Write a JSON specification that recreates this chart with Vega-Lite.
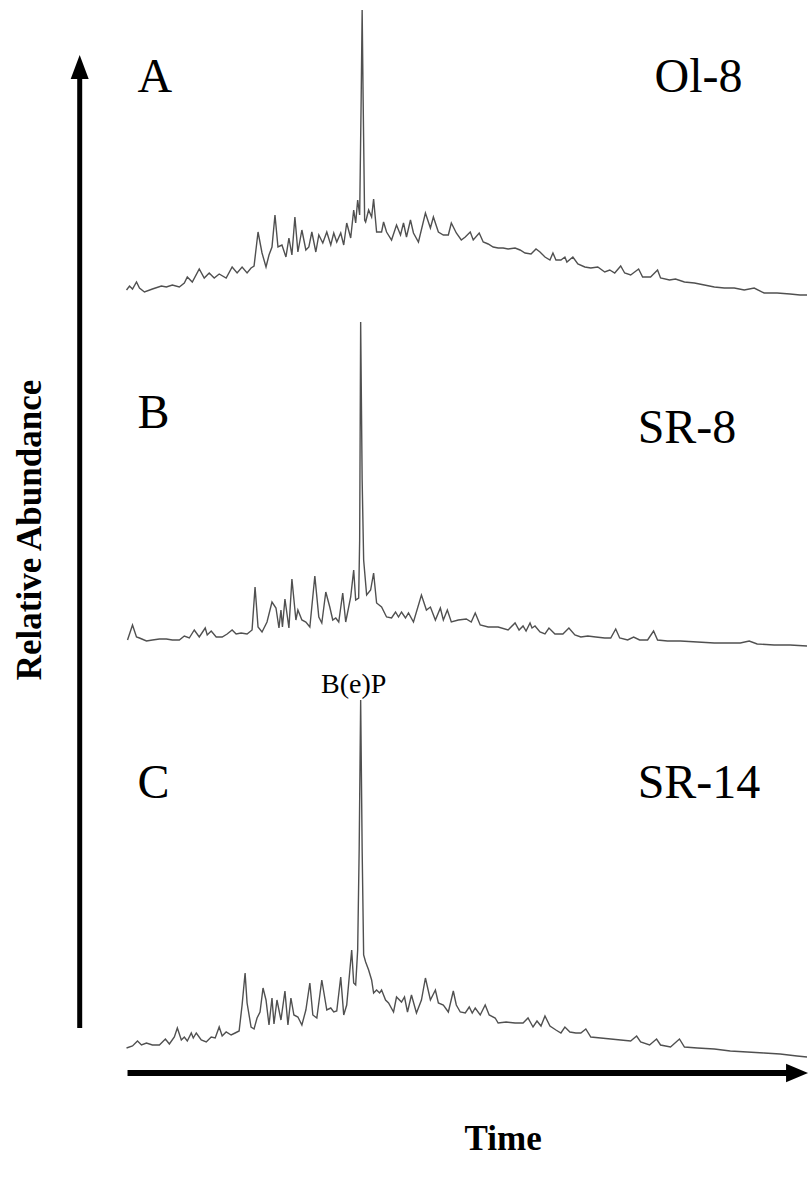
{
  "$schema": "https://vega.github.io/schema/vega-lite/v6.json",
  "width": 810,
  "height": 1183,
  "padding": 0,
  "autosize": {"type": "fit", "contains": "padding"},
  "background": "white",
  "config": {"view": {"stroke": null}},
  "datasets": {
    "A": [
      {"time":12.7,"abundance":10},{"time":13.0,"abundance":14},{"time":13.3,"abundance":11},{"time":13.7,"abundance":18},{"time":14.0,"abundance":12},{"time":14.5,"abundance":8},{"time":15.3,"abundance":11},{"time":16.2,"abundance":14},{"time":16.7,"abundance":13},{"time":17.3,"abundance":15},{"time":18.0,"abundance":13},{"time":18.5,"abundance":17},{"time":18.8,"abundance":23},{"time":19.3,"abundance":18},{"time":20.0,"abundance":31},{"time":20.5,"abundance":22},{"time":21.0,"abundance":27},{"time":21.5,"abundance":22},{"time":22.0,"abundance":26},{"time":22.7,"abundance":22},{"time":23.3,"abundance":33},{"time":23.8,"abundance":27},{"time":24.3,"abundance":33},{"time":24.8,"abundance":27},{"time":25.2,"abundance":32},{"time":25.5,"abundance":34},{"time":25.9,"abundance":68},{"time":26.3,"abundance":47},{"time":26.7,"abundance":33},{"time":27.0,"abundance":45},{"time":27.3,"abundance":53},{"time":27.6,"abundance":85},{"time":27.9,"abundance":53},{"time":28.3,"abundance":55},{"time":28.7,"abundance":43},{"time":29.0,"abundance":62},{"time":29.3,"abundance":45},{"time":29.6,"abundance":83},{"time":29.9,"abundance":48},{"time":30.3,"abundance":70},{"time":30.7,"abundance":50},{"time":31.0,"abundance":53},{"time":31.3,"abundance":68},{"time":31.7,"abundance":48},{"time":32.0,"abundance":65},{"time":32.4,"abundance":57},{"time":32.8,"abundance":68},{"time":33.2,"abundance":55},{"time":33.5,"abundance":67},{"time":33.8,"abundance":58},{"time":34.2,"abundance":67},{"time":34.5,"abundance":55},{"time":34.8,"abundance":77},{"time":35.2,"abundance":62},{"time":35.5,"abundance":90},{"time":35.7,"abundance":77},{"time":35.9,"abundance":100},{"time":36.1,"abundance":85},{"time":36.25,"abundance":200},{"time":36.35,"abundance":290},{"time":36.45,"abundance":200},{"time":36.6,"abundance":80},{"time":36.7,"abundance":78},{"time":37.0,"abundance":90},{"time":37.3,"abundance":83},{"time":37.5,"abundance":101},{"time":37.8,"abundance":68},{"time":38.3,"abundance":68},{"time":38.5,"abundance":78},{"time":38.8,"abundance":68},{"time":39.3,"abundance":60},{"time":39.8,"abundance":75},{"time":40.2,"abundance":65},{"time":40.5,"abundance":77},{"time":40.8,"abundance":63},{"time":41.2,"abundance":80},{"time":41.5,"abundance":67},{"time":42.0,"abundance":58},{"time":42.7,"abundance":87},{"time":43.2,"abundance":72},{"time":43.5,"abundance":83},{"time":44.0,"abundance":68},{"time":44.5,"abundance":65},{"time":45.0,"abundance":65},{"time":45.3,"abundance":77},{"time":45.8,"abundance":67},{"time":46.3,"abundance":60},{"time":46.7,"abundance":63},{"time":47.2,"abundance":68},{"time":47.5,"abundance":60},{"time":48.1,"abundance":67},{"time":48.5,"abundance":58},{"time":49.0,"abundance":56},{"time":49.5,"abundance":53},{"time":50.0,"abundance":52},{"time":50.5,"abundance":52},{"time":51.0,"abundance":51},{"time":51.7,"abundance":52},{"time":52.2,"abundance":50},{"time":52.7,"abundance":47},{"time":53.3,"abundance":46},{"time":53.8,"abundance":51},{"time":54.2,"abundance":48},{"time":54.7,"abundance":43},{"time":55.2,"abundance":40},{"time":55.5,"abundance":47},{"time":55.8,"abundance":40},{"time":56.3,"abundance":40},{"time":56.7,"abundance":43},{"time":56.9,"abundance":38},{"time":57.5,"abundance":43},{"time":58.0,"abundance":36},{"time":58.7,"abundance":33},{"time":59.3,"abundance":32},{"time":60.0,"abundance":33},{"time":60.7,"abundance":28},{"time":61.2,"abundance":30},{"time":61.7,"abundance":27},{"time":62.3,"abundance":34},{"time":62.7,"abundance":27},{"time":63.3,"abundance":25},{"time":64.1,"abundance":31},{"time":64.5,"abundance":23},{"time":65.3,"abundance":23},{"time":66.0,"abundance":30},{"time":66.3,"abundance":22},{"time":67.2,"abundance":20},{"time":67.8,"abundance":21},{"time":68.7,"abundance":18},{"time":69.7,"abundance":17},{"time":70.7,"abundance":15},{"time":71.7,"abundance":13},{"time":72.7,"abundance":12},{"time":73.7,"abundance":12},{"time":74.7,"abundance":10},{"time":75.7,"abundance":12},{"time":76.7,"abundance":7},{"time":78.0,"abundance":7},{"time":79.3,"abundance":6},{"time":80.3,"abundance":5},{"time":81.0,"abundance":5}
    ],
    "B": [
      {"time":12.8,"abundance":15},{"time":13.3,"abundance":30},{"time":13.7,"abundance":18},{"time":14.0,"abundance":17},{"time":14.7,"abundance":14},{"time":15.3,"abundance":15},{"time":16.0,"abundance":16},{"time":16.7,"abundance":16},{"time":17.3,"abundance":15},{"time":18.0,"abundance":15},{"time":18.5,"abundance":19},{"time":19.0,"abundance":17},{"time":19.5,"abundance":25},{"time":20.0,"abundance":18},{"time":20.6,"abundance":27},{"time":20.8,"abundance":20},{"time":21.2,"abundance":24},{"time":21.7,"abundance":18},{"time":22.3,"abundance":18},{"time":22.8,"abundance":21},{"time":23.3,"abundance":25},{"time":23.7,"abundance":21},{"time":24.2,"abundance":22},{"time":24.8,"abundance":21},{"time":25.3,"abundance":25},{"time":25.6,"abundance":68},{"time":25.9,"abundance":28},{"time":26.3,"abundance":23},{"time":26.8,"abundance":33},{"time":27.3,"abundance":53},{"time":27.7,"abundance":47},{"time":28.0,"abundance":27},{"time":28.2,"abundance":45},{"time":28.35,"abundance":28},{"time":28.6,"abundance":56},{"time":29.0,"abundance":27},{"time":29.3,"abundance":76},{"time":29.7,"abundance":35},{"time":29.9,"abundance":45},{"time":30.3,"abundance":35},{"time":30.7,"abundance":33},{"time":31.1,"abundance":28},{"time":31.6,"abundance":79},{"time":32.0,"abundance":38},{"time":32.3,"abundance":32},{"time":32.7,"abundance":63},{"time":33.1,"abundance":48},{"time":33.4,"abundance":35},{"time":33.7,"abundance":37},{"time":34.0,"abundance":33},{"time":34.4,"abundance":62},{"time":34.7,"abundance":33},{"time":35.2,"abundance":58},{"time":35.5,"abundance":85},{"time":35.7,"abundance":55},{"time":36.0,"abundance":57},{"time":36.1,"abundance":115},{"time":36.2,"abundance":333},{"time":36.35,"abundance":175},{"time":36.5,"abundance":95},{"time":36.8,"abundance":60},{"time":37.2,"abundance":65},{"time":37.5,"abundance":82},{"time":37.8,"abundance":52},{"time":38.3,"abundance":48},{"time":38.8,"abundance":38},{"time":39.3,"abundance":37},{"time":39.7,"abundance":43},{"time":40.0,"abundance":38},{"time":40.3,"abundance":43},{"time":40.7,"abundance":37},{"time":41.0,"abundance":42},{"time":41.5,"abundance":33},{"time":42.3,"abundance":60},{"time":42.8,"abundance":45},{"time":43.2,"abundance":48},{"time":43.7,"abundance":35},{"time":44.2,"abundance":47},{"time":44.5,"abundance":35},{"time":44.9,"abundance":45},{"time":45.3,"abundance":33},{"time":46.0,"abundance":35},{"time":46.8,"abundance":36},{"time":47.3,"abundance":33},{"time":47.7,"abundance":42},{"time":48.2,"abundance":30},{"time":49.0,"abundance":28},{"time":50.0,"abundance":28},{"time":51.0,"abundance":25},{"time":51.7,"abundance":32},{"time":52.1,"abundance":25},{"time":52.5,"abundance":29},{"time":52.8,"abundance":24},{"time":53.2,"abundance":32},{"time":53.4,"abundance":27},{"time":53.7,"abundance":29},{"time":54.2,"abundance":23},{"time":54.7,"abundance":21},{"time":55.1,"abundance":27},{"time":55.7,"abundance":21},{"time":56.5,"abundance":21},{"time":57.1,"abundance":27},{"time":57.7,"abundance":20},{"time":58.3,"abundance":18},{"time":59.0,"abundance":19},{"time":59.8,"abundance":18},{"time":60.7,"abundance":17},{"time":61.3,"abundance":17},{"time":61.8,"abundance":26},{"time":62.2,"abundance":17},{"time":63.0,"abundance":15},{"time":63.6,"abundance":18},{"time":64.2,"abundance":15},{"time":65.0,"abundance":15},{"time":65.6,"abundance":24},{"time":66.0,"abundance":15},{"time":67.0,"abundance":14},{"time":68.3,"abundance":14},{"time":70.0,"abundance":13},{"time":71.7,"abundance":12},{"time":73.3,"abundance":12},{"time":74.3,"abundance":12},{"time":75.2,"abundance":14},{"time":76.0,"abundance":11},{"time":77.7,"abundance":10},{"time":79.3,"abundance":10},{"time":81.0,"abundance":9}
    ],
    "C": [
      {"time":12.7,"abundance":17},{"time":13.3,"abundance":19},{"time":13.8,"abundance":24},{"time":14.2,"abundance":20},{"time":14.7,"abundance":22},{"time":15.3,"abundance":20},{"time":16.0,"abundance":20},{"time":16.6,"abundance":26},{"time":17.0,"abundance":21},{"time":17.5,"abundance":28},{"time":17.8,"abundance":37},{"time":18.2,"abundance":25},{"time":18.5,"abundance":28},{"time":18.8,"abundance":24},{"time":19.2,"abundance":32},{"time":19.4,"abundance":27},{"time":19.7,"abundance":32},{"time":20.2,"abundance":25},{"time":20.7,"abundance":23},{"time":21.2,"abundance":28},{"time":21.6,"abundance":27},{"time":22.0,"abundance":38},{"time":22.3,"abundance":29},{"time":22.7,"abundance":33},{"time":23.2,"abundance":30},{"time":23.6,"abundance":32},{"time":24.0,"abundance":34},{"time":24.3,"abundance":60},{"time":24.6,"abundance":92},{"time":24.8,"abundance":62},{"time":25.2,"abundance":38},{"time":25.5,"abundance":36},{"time":25.8,"abundance":47},{"time":26.1,"abundance":53},{"time":26.4,"abundance":77},{"time":26.7,"abundance":65},{"time":27.0,"abundance":40},{"time":27.3,"abundance":67},{"time":27.5,"abundance":41},{"time":27.8,"abundance":65},{"time":28.2,"abundance":45},{"time":28.6,"abundance":74},{"time":28.9,"abundance":40},{"time":29.2,"abundance":67},{"time":29.5,"abundance":50},{"time":29.9,"abundance":48},{"time":30.3,"abundance":40},{"time":30.7,"abundance":55},{"time":31.1,"abundance":82},{"time":31.4,"abundance":50},{"time":31.8,"abundance":47},{"time":32.3,"abundance":85},{"time":32.5,"abundance":73},{"time":32.8,"abundance":55},{"time":33.2,"abundance":57},{"time":33.5,"abundance":53},{"time":33.8,"abundance":54},{"time":34.2,"abundance":88},{"time":34.5,"abundance":50},{"time":34.8,"abundance":60},{"time":35.1,"abundance":93},{"time":35.3,"abundance":115},{"time":35.5,"abundance":82},{"time":35.7,"abundance":80},{"time":35.9,"abundance":115},{"time":36.05,"abundance":215},{"time":36.2,"abundance":365},{"time":36.35,"abundance":215},{"time":36.5,"abundance":110},{"time":36.7,"abundance":103},{"time":37.0,"abundance":95},{"time":37.3,"abundance":85},{"time":37.5,"abundance":72},{"time":37.8,"abundance":75},{"time":38.1,"abundance":72},{"time":38.3,"abundance":75},{"time":38.7,"abundance":65},{"time":39.0,"abundance":62},{"time":39.5,"abundance":53},{"time":39.8,"abundance":68},{"time":40.3,"abundance":63},{"time":40.6,"abundance":68},{"time":40.9,"abundance":53},{"time":41.3,"abundance":70},{"time":41.8,"abundance":52},{"time":42.3,"abundance":65},{"time":42.7,"abundance":87},{"time":43.2,"abundance":65},{"time":43.7,"abundance":75},{"time":44.0,"abundance":62},{"time":44.5,"abundance":60},{"time":45.0,"abundance":53},{"time":45.5,"abundance":74},{"time":45.8,"abundance":60},{"time":46.2,"abundance":53},{"time":46.7,"abundance":52},{"time":47.1,"abundance":58},{"time":47.4,"abundance":52},{"time":47.7,"abundance":57},{"time":48.2,"abundance":50},{"time":48.7,"abundance":60},{"time":49.1,"abundance":50},{"time":49.7,"abundance":47},{"time":50.0,"abundance":42},{"time":50.8,"abundance":43},{"time":51.7,"abundance":42},{"time":52.5,"abundance":42},{"time":53.0,"abundance":47},{"time":53.5,"abundance":38},{"time":53.9,"abundance":44},{"time":54.3,"abundance":39},{"time":54.7,"abundance":49},{"time":55.2,"abundance":39},{"time":55.8,"abundance":35},{"time":56.3,"abundance":32},{"time":56.7,"abundance":38},{"time":57.2,"abundance":33},{"time":57.8,"abundance":32},{"time":58.3,"abundance":32},{"time":58.8,"abundance":36},{"time":59.3,"abundance":28},{"time":60.3,"abundance":27},{"time":61.3,"abundance":26},{"time":62.3,"abundance":25},{"time":63.3,"abundance":24},{"time":63.9,"abundance":29},{"time":64.3,"abundance":23},{"time":65.2,"abundance":20},{"time":65.9,"abundance":26},{"time":66.3,"abundance":20},{"time":67.3,"abundance":18},{"time":68.2,"abundance":26},{"time":68.7,"abundance":18},{"time":70.0,"abundance":17},{"time":71.7,"abundance":16},{"time":73.3,"abundance":14},{"time":75.0,"abundance":13},{"time":76.7,"abundance":12},{"time":78.3,"abundance":11},{"time":80.0,"abundance":9},{"time":81.0,"abundance":8}
    ],
    "vArrow": [{"x": 8.0, "y": 155, "y2": 1108}],
    "vHead": [{"x": 8.0, "y": 1116}],
    "hArrow": [{"x": 12.8, "x2": 79.5, "y": 110}],
    "hHead": [{"x": 80.0, "y": 110}],
    "panelLabels": [
      {"x": 13.8, "y": 1091, "label": "A"},
      {"x": 65.7, "y": 1091, "label": "Ol-8"},
      {"x": 13.8, "y": 755, "label": "B"},
      {"x": 64.0, "y": 740, "label": "SR-8"},
      {"x": 13.8, "y": 385, "label": "C"},
      {"x": 64.0, "y": 385, "label": "SR-14"}
    ],
    "peakLabel": [{"x": 35.5, "y": 490, "label": "B(e)P"}],
    "yTitle": [{"x": 3.0, "y": 653, "label": "Relative Abundance"}],
    "xTitle": [{"x": 50.5, "y": 33, "label": "Time"}]
  },
  "resolve": {"scale": {"y": "independent"}},
  "layer": [
    {
      "data": {"name": "A"},
      "mark": {"type": "line", "color": "#505050", "strokeWidth": 1.4},
      "encoding": {
        "x": {"field": "time", "type": "quantitative", "scale": {"domain": [0, 81], "nice": false, "zero": false}, "axis": null},
        "y": {"field": "abundance", "type": "quantitative", "scale": {"domain": [-883, 300], "nice": false, "zero": false}, "axis": null}
      }
    },
    {
      "data": {"name": "B"},
      "mark": {"type": "line", "color": "#505050", "strokeWidth": 1.4},
      "encoding": {
        "x": {"field": "time", "type": "quantitative", "scale": {"domain": [0, 81], "nice": false, "zero": false}, "axis": null},
        "y": {"field": "abundance", "type": "quantitative", "scale": {"domain": [-528, 655], "nice": false, "zero": false}, "axis": null}
      }
    },
    {
      "data": {"name": "C"},
      "mark": {"type": "line", "color": "#505050", "strokeWidth": 1.4},
      "encoding": {
        "x": {"field": "time", "type": "quantitative", "scale": {"domain": [0, 81], "nice": false, "zero": false}, "axis": null},
        "y": {"field": "abundance", "type": "quantitative", "scale": {"domain": [-118, 1065], "nice": false, "zero": false}, "axis": null}
      }
    },
    {
      "data": {"name": "vArrow"},
      "mark": {"type": "rule", "color": "black", "strokeWidth": 5},
      "encoding": {
        "x": {"field": "x", "type": "quantitative", "scale": {"domain": [0, 81], "nice": false, "zero": false}, "axis": null},
        "y": {"field": "y", "type": "quantitative", "scale": {"domain": [0, 1183], "nice": false, "zero": false}, "axis": null},
        "y2": {"field": "y2"}
      }
    },
    {
      "data": {"name": "vHead"},
      "mark": {"type": "point", "filled": true, "color": "black", "opacity": 1, "shape": "M0,-1L0.75,1L-0.75,1Z", "size": 576},
      "encoding": {
        "x": {"field": "x", "type": "quantitative", "scale": {"domain": [0, 81], "nice": false, "zero": false}, "axis": null},
        "y": {"field": "y", "type": "quantitative", "scale": {"domain": [0, 1183], "nice": false, "zero": false}, "axis": null}
      }
    },
    {
      "data": {"name": "hArrow"},
      "mark": {"type": "rule", "color": "black", "strokeWidth": 6},
      "encoding": {
        "x": {"field": "x", "type": "quantitative", "scale": {"domain": [0, 81], "nice": false, "zero": false}, "axis": null},
        "x2": {"field": "x2"},
        "y": {"field": "y", "type": "quantitative", "scale": {"domain": [0, 1183], "nice": false, "zero": false}, "axis": null}
      }
    },
    {
      "data": {"name": "hHead"},
      "mark": {"type": "point", "filled": true, "color": "black", "opacity": 1, "shape": "M1,0L-1,-0.85L-1,0.85Z", "size": 484},
      "encoding": {
        "x": {"field": "x", "type": "quantitative", "scale": {"domain": [0, 81], "nice": false, "zero": false}, "axis": null},
        "y": {"field": "y", "type": "quantitative", "scale": {"domain": [0, 1183], "nice": false, "zero": false}, "axis": null}
      }
    },
    {
      "data": {"name": "panelLabels"},
      "mark": {"type": "text", "font": "Liberation Serif", "fontSize": 48, "color": "black", "align": "left", "baseline": "alphabetic"},
      "encoding": {
        "x": {"field": "x", "type": "quantitative", "scale": {"domain": [0, 81], "nice": false, "zero": false}, "axis": null},
        "y": {"field": "y", "type": "quantitative", "scale": {"domain": [0, 1183], "nice": false, "zero": false}, "axis": null},
        "text": {"field": "label"}
      }
    },
    {
      "data": {"name": "peakLabel"},
      "mark": {"type": "text", "font": "Liberation Serif", "fontSize": 28, "color": "black", "align": "center", "baseline": "alphabetic"},
      "encoding": {
        "x": {"field": "x", "type": "quantitative", "scale": {"domain": [0, 81], "nice": false, "zero": false}, "axis": null},
        "y": {"field": "y", "type": "quantitative", "scale": {"domain": [0, 1183], "nice": false, "zero": false}, "axis": null},
        "text": {"field": "label"}
      }
    },
    {
      "data": {"name": "yTitle"},
      "mark": {"type": "text", "font": "Liberation Serif", "fontSize": 35, "fontWeight": "bold", "color": "black", "align": "center", "baseline": "middle", "angle": 270},
      "encoding": {
        "x": {"field": "x", "type": "quantitative", "scale": {"domain": [0, 81], "nice": false, "zero": false}, "axis": null},
        "y": {"field": "y", "type": "quantitative", "scale": {"domain": [0, 1183], "nice": false, "zero": false}, "axis": null},
        "text": {"field": "label"}
      }
    },
    {
      "data": {"name": "xTitle"},
      "mark": {"type": "text", "font": "Liberation Serif", "fontSize": 35, "fontWeight": "bold", "color": "black", "align": "center", "baseline": "alphabetic"},
      "encoding": {
        "x": {"field": "x", "type": "quantitative", "scale": {"domain": [0, 81], "nice": false, "zero": false}, "axis": null},
        "y": {"field": "y", "type": "quantitative", "scale": {"domain": [0, 1183], "nice": false, "zero": false}, "axis": null},
        "text": {"field": "label"}
      }
    }
  ]
}
